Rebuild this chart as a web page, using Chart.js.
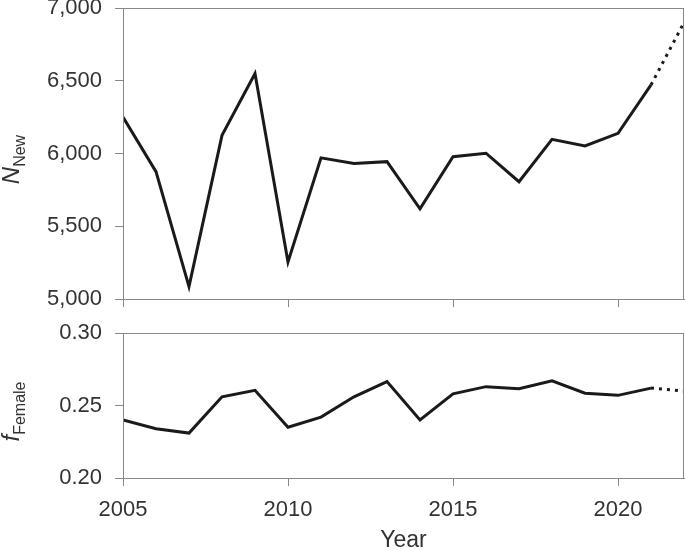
<!DOCTYPE html>
<html>
<head>
<meta charset="utf-8">
<script src="https://cdn.jsdelivr.net/npm/chart.js@4"></script>
<style>
  body { margin: 0; background: #fff; }
  #wrap { position: relative; width: 685px; height: 550px; overflow: hidden; font-family: "Liberation Sans", Arial, sans-serif; color: #333; }
  canvas { position: absolute; left: 0; }
  .ylab { position: absolute; width: 200px; text-align: center; transform: rotate(-90deg); font-size: 24px; white-space: nowrap; line-height: 30px; }
  .ylab i { font-style: italic; }
  .ylab sub { font-size: 16px; vertical-align: -6px; }
</style>
</head>
<body>
<div id="wrap">
  <canvas id="top" width="685" height="310" style="top:0"></canvas>
  <canvas id="bottom" width="685" height="240" style="top:310px"></canvas>
  <div class="ylab" style="left:-85px; top:140px;"><i>N</i><sub>New</sub></div>
  <div class="ylab" style="left:-85px; top:392px;"><i>f</i><sub>Female</sub></div>
</div>
<script>
var years = [2005, 2006, 2007, 2008, 2009, 2010, 2011, 2012, 2013, 2014, 2015, 2016, 2017, 2018, 2019, 2020, 2021, 2022];
var nNew = [6250, 5875, 5085, 6125, 6550, 5255, 5970, 5932, 5944, 5620, 5978, 6002, 5806, 6097, 6052, 6139, 6471, 6900];
var fFemale = [0.240, 0.234, 0.231, 0.256, 0.2605, 0.235, 0.242, 0.256, 0.2665, 0.240, 0.258, 0.263, 0.2615, 0.267, 0.2585, 0.257, 0.262, 0.260];
var xTicks = [2005, 2010, 2015, 2020];
var yTicksTop = [5000, 5500, 6000, 6500, 7000];
var yTicksBottom = [0.20, 0.25, 0.30];

var axisColor = '#888';
var textColor = '#333';
var font = { family: "'Liberation Sans', Arial, sans-serif", size: 22 };

function pts(ys) {
    return years.map(function(y, i) { return { x: y, y: ys[i] }; });
}

// the last year is an estimate, drawn dotted
var dotted = function(ctx) { return ctx.p1DataIndex === years.length - 1 ? [3, 5] : undefined; };

var boxPlugin = {
    id: 'box',
    afterDraw: function(chart) {
        var a = chart.chartArea, c = chart.ctx;
        c.save();
        c.strokeStyle = axisColor;
        c.lineWidth = 1;
        c.strokeRect(a.left + 0.5, a.top + 0.5, a.right - a.left - 1, a.bottom - a.top);
        c.restore();
    }
};

function xAxis(showLabels) {
    return {
        type: 'linear', min: 2005, max: 2022,
        afterBuildTicks: function(axis) { axis.ticks = xTicks.map(function(v) { return { value: v }; }); },
        afterFit: function(axis) {
            axis.paddingLeft = 0; axis.paddingRight = 0;
            axis.height = showLabels ? 72 : 8;
        },
        grid: { drawOnChartArea: false, drawTicks: true, tickLength: 8, color: axisColor },
        border: { color: axisColor },
        ticks: { display: showLabels, color: textColor, font: font, padding: 11, maxRotation: 0,
                 callback: function(v) { return String(v); } },
        title: { display: showLabels, text: 'Year', color: textColor,
                 font: { family: font.family, size: 23 }, padding: { top: 0, bottom: -4 } }
    };
}

function yAxis(min, max, tickList, fmt) {
    return {
        min: min, max: max,
        afterBuildTicks: function(axis) { axis.ticks = tickList.map(function(v) { return { value: v }; }); },
        afterFit: function(axis) { axis.width = 123; axis.paddingTop = 0; axis.paddingBottom = 0; },
        grid: { drawOnChartArea: false, drawTicks: true, tickLength: 8, color: axisColor },
        border: { color: axisColor },
        ticks: { color: textColor, font: font, padding: 13, callback: fmt }
    };
}

var lineStyle = {
    borderColor: '#1a1a1a', borderWidth: 3, pointRadius: 0, tension: 0,
    borderJoinStyle: 'miter', segment: { borderDash: dotted }
};

new Chart(document.getElementById('top').getContext('2d'), {
    type: 'line',
    data: { datasets: [Object.assign({ data: pts(nNew) }, lineStyle)] },
    options: {
        responsive: false, animation: false,
        layout: { padding: { top: 8, right: 1, bottom: 3, left: 0 } },
        plugins: { legend: { display: false }, tooltip: { enabled: false } },
        scales: {
            x: xAxis(false),
            y: yAxis(5000, 7000, yTicksTop, function(v) { return v.toLocaleString('en-US'); })
        }
    },
    plugins: [boxPlugin]
});

new Chart(document.getElementById('bottom').getContext('2d'), {
    type: 'line',
    data: { datasets: [Object.assign({ data: pts(fFemale) }, lineStyle)] },
    options: {
        responsive: false, animation: false,
        layout: { padding: { top: 23, right: 1, bottom: 0, left: 0 } },
        plugins: { legend: { display: false }, tooltip: { enabled: false } },
        scales: {
            x: xAxis(true),
            y: yAxis(0.2, 0.3, yTicksBottom, function(v) { return v.toFixed(2); })
        }
    },
    plugins: [boxPlugin]
});
</script>
</body>
</html>
